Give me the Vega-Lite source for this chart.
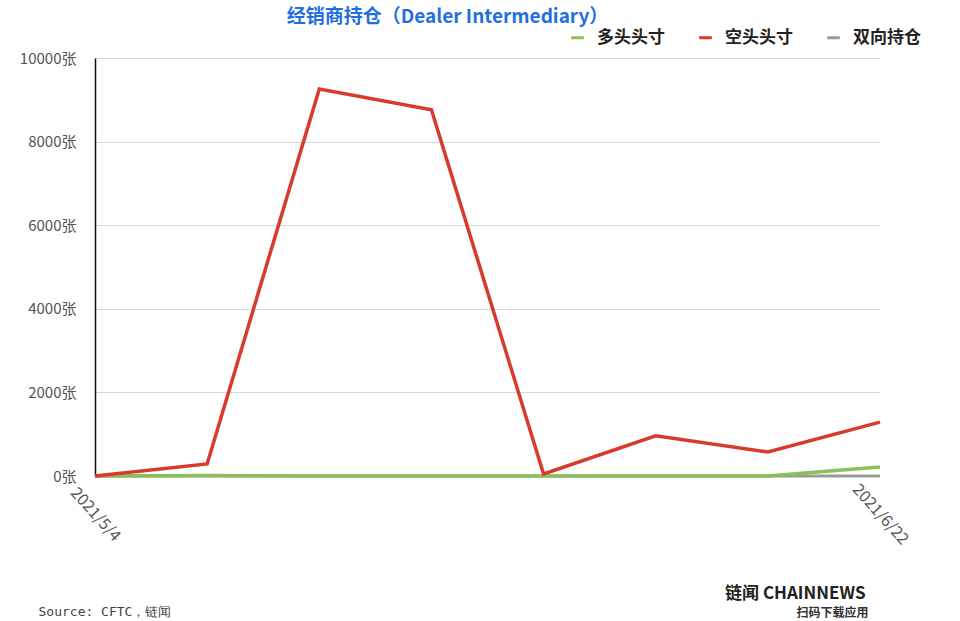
{
  "$schema": "https://vega.github.io/schema/vega-lite/v6.json",
  "width": 785,
  "height": 418,
  "autosize": {"type": "none"},
  "padding": {"left": 95, "top": 58, "right": 80, "bottom": 145},
  "background": "white",
  "config": {
    "font": "Noto Sans CJK SC",
    "view": {"stroke": null}
  },
  "title": {
    "text": "经销商持仓（Dealer Intermediary）",
    "anchor": "middle",
    "frame": "group",
    "dx": -40,
    "offset": -17,
    "baseline": "bottom",
    "fontSize": 19,
    "fontWeight": "bold",
    "color": "#1f6fe0",
    "font": "Noto Sans CJK SC"
  },
  "datasets": {
    "positions": [
      {"date": "2021/5/4", "series": "多头头寸", "value": 0},
      {"date": "2021/5/11", "series": "多头头寸", "value": 10},
      {"date": "2021/5/18", "series": "多头头寸", "value": 0},
      {"date": "2021/5/25", "series": "多头头寸", "value": 0},
      {"date": "2021/6/1", "series": "多头头寸", "value": 0},
      {"date": "2021/6/8", "series": "多头头寸", "value": 0},
      {"date": "2021/6/15", "series": "多头头寸", "value": 0},
      {"date": "2021/6/22", "series": "多头头寸", "value": 215},
      {"date": "2021/5/4", "series": "空头头寸", "value": 0},
      {"date": "2021/5/11", "series": "空头头寸", "value": 290},
      {"date": "2021/5/18", "series": "空头头寸", "value": 9260},
      {"date": "2021/5/25", "series": "空头头寸", "value": 8760},
      {"date": "2021/6/1", "series": "空头头寸", "value": 50},
      {"date": "2021/6/8", "series": "空头头寸", "value": 960},
      {"date": "2021/6/15", "series": "空头头寸", "value": 575},
      {"date": "2021/6/22", "series": "空头头寸", "value": 1290},
      {"date": "2021/5/4", "series": "双向持仓", "value": 0},
      {"date": "2021/5/11", "series": "双向持仓", "value": 0},
      {"date": "2021/5/18", "series": "双向持仓", "value": 0},
      {"date": "2021/5/25", "series": "双向持仓", "value": 0},
      {"date": "2021/6/1", "series": "双向持仓", "value": 0},
      {"date": "2021/6/8", "series": "双向持仓", "value": 0},
      {"date": "2021/6/15", "series": "双向持仓", "value": 0},
      {"date": "2021/6/22", "series": "双向持仓", "value": 0}
    ]
  },
  "data": {"name": "positions"},
  "encoding": {
    "x": {
      "field": "date",
      "type": "ordinal",
      "sort": null,
      "scale": {"type": "point", "padding": 0},
      "axis": {
        "values": ["2021/5/4", "2021/6/22"],
        "labelAngle": 48,
        "labelAlign": "center",
        "labelBaseline": "middle",
        "labelPadding": 38,
        "labelFontSize": 16,
        "labelColor": "#555555",
        "ticks": false,
        "domain": false,
        "grid": false,
        "title": "Source: CFTC，链闻",
        "titleX": -57,
        "titleY": 139,
        "titleAlign": "left",
        "titleAnchor": null,
        "titleBaseline": "alphabetic",
        "titleFont": "DejaVu Sans Mono",
        "titleFontSize": 13,
        "titleFontWeight": "normal",
        "titleColor": "#444444"
      }
    },
    "color": {
      "field": "series",
      "type": "nominal",
      "scale": {
        "domain": ["多头头寸", "空头头寸", "双向持仓"],
        "range": ["#8cbf5c", "#d83a2c", "#9b9b9b"]
      },
      "legend": {
        "orient": "none",
        "direction": "horizontal",
        "legendX": 474,
        "legendY": -29,
        "title": null,
        "symbolType": "stroke",
        "symbolSize": 160,
        "symbolStrokeWidth": 3,
        "labelFontSize": 17,
        "labelFontWeight": "bold",
        "labelColor": "#222222",
        "labelOffset": 11,
        "columnPadding": 28
      }
    }
  },
  "layer": [
    {
      "transform": [{"filter": "datum.series === '双向持仓'"}],
      "mark": {"type": "line", "strokeWidth": 3},
      "encoding": {
        "y": {
          "field": "value",
          "type": "quantitative",
          "scale": {"domain": [0, 10000]},
          "axis": {
            "orient": "right",
            "labels": false,
            "ticks": false,
            "domain": false,
            "grid": false,
            "title": "扫码下载应用",
            "titleAngle": 0,
            "titleX": -12,
            "titleY": 558,
            "titleAlign": "right",
            "titleAnchor": null,
            "titleBaseline": "alphabetic",
            "titleFontSize": 12,
            "titleFontWeight": "bold",
            "titleColor": "#333333"
          }
        }
      }
    },
    {
      "transform": [{"filter": "datum.series !== '双向持仓'"}],
      "mark": {"type": "line", "strokeWidth": 3.5, "strokeJoin": "miter"},
      "encoding": {
        "y": {
          "field": "value",
          "type": "quantitative",
          "scale": {"domain": [0, 10000]},
          "axis": {
            "values": [0, 2000, 4000, 6000, 8000, 10000],
            "labelExpr": "datum.value + '张'",
            "labelFontSize": 15,
            "labelColor": "#555555",
            "labelPadding": 19,
            "ticks": false,
            "domain": true,
            "domainColor": "#111111",
            "domainWidth": 1.5,
            "grid": true,
            "gridColor": "#d9d9d9",
            "gridWidth": 1,
            "title": "链闻 CHAINNEWS",
            "titleAngle": 0,
            "titleX": 770,
            "titleY": 540,
            "titleAlign": "right",
            "titleAnchor": null,
            "titleBaseline": "alphabetic",
            "titleFontSize": 17,
            "titleFontWeight": "bold",
            "titleColor": "#222222"
          }
        }
      }
    }
  ],
  "resolve": {"scale": {"y": "independent"}}
}
